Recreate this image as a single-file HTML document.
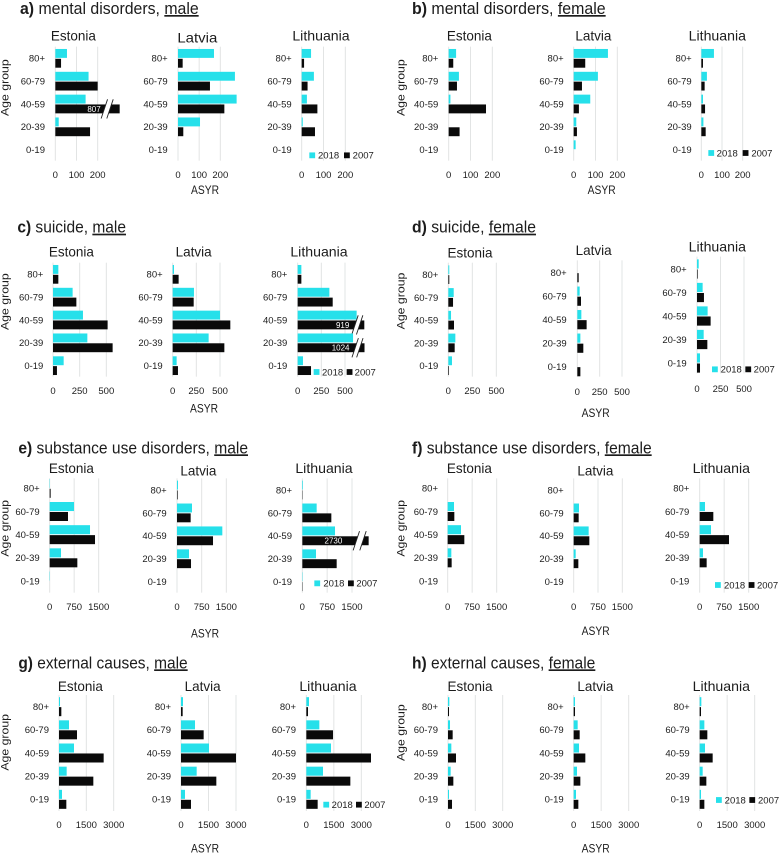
<!DOCTYPE html>
<html lang="en">
<head>
<meta charset="utf-8">
<title>ASYR by age group in the Baltic countries</title>
<style>
html,body{margin:0;padding:0;background:#fff;}
svg{display:block;font-family:"Liberation Sans",Arial,sans-serif;filter:blur(0.3px);}
text{fill:#1c1c1c;}
.ul{text-decoration:underline;}
</style>
</head>
<body>
<svg id="chart" xmlns="http://www.w3.org/2000/svg" width="780" height="853" viewBox="0 0 780 853"></svg>
<script>
// Categories and legend
const ageGroups = ['80+', '60-79', '40-59', '20-39', '0-19'];
const legendYears = ['2018', '2007'];

// Tick labels
const ticksMental = [0, 100, 200];
const ticksSuicide = [0, 250, 500];
const ticksSubstance = [0, 750, 1500];
const ticksExternal = [0, 1500, 3000];

// a) mental disorders, male
const aEstonia2018 = [55, 157, 143, 16, 0];
const aEstonia2007 = [27, 200, 807, 164, 0];
const aLatvia2018 = [170, 269, 277, 104, 0];
const aLatvia2007 = [22, 151, 219, 25, 0];
const aLithuania2018 = [43, 56, 24, 5, 0];
const aLithuania2007 = [11, 27, 72, 61, 0];

// b) mental disorders, female
const bEstonia2018 = [34, 47, 8, 0, 0];
const bEstonia2007 = [21, 38, 171, 50, 0];
const bLatvia2018 = [157, 111, 76, 12, 9];
const bLatvia2007 = [53, 38, 24, 15, 0];
const bLithuania2018 = [61, 27, 8, 10, 0];
const bLithuania2007 = [8, 16, 18, 21, 0];

// c) suicide, male
const cEstonia2018 = [50, 184, 281, 322, 100];
const cEstonia2007 = [50, 219, 512, 559, 37];
const cLatvia2018 = [14, 225, 500, 380, 42];
const cLatvia2007 = [63, 222, 609, 546, 56];
const cLithuania2018 = [39, 335, 623, 585, 56];
const cLithuania2007 = [39, 370, 919, 1024, 141];

// d) suicide, female
const dEstonia2018 = [10, 56, 28, 73, 38];
const dEstonia2007 = [10, 49, 59, 66, 7];
const dLatvia2018 = [0, 26, 45, 34, 0];
const dLatvia2007 = [15, 41, 104, 67, 34];
const dLithuania2018 = [18, 60, 113, 71, 32];
const dLithuania2007 = [7, 74, 145, 110, 32];

// e) substance use disorders, male
const eEstonia2018 = [10, 745, 1235, 347, 10];
const eEstonia2007 = [30, 561, 1388, 847, 0];
const eLatvia2018 = [30, 456, 1378, 365, 0];
const eLatvia2007 = [20, 415, 1095, 426, 0];
const eLithuania2018 = [20, 433, 987, 413, 10];
const eLithuania2007 = [10, 876, 2730, 1037, 10];

// f) substance use disorders, female
const fEstonia2018 = [0, 194, 408, 112, 0];
const fEstonia2007 = [0, 204, 510, 122, 0];
const fLatvia2018 = [0, 164, 462, 62, 0];
const fLatvia2007 = [0, 154, 483, 144, 0];
const fLithuania2018 = [0, 163, 347, 102, 0];
const fLithuania2007 = [0, 418, 898, 214, 0];

// g) external causes, male
const gEstonia2018 = [55, 549, 823, 421, 165];
const gEstonia2007 = [128, 988, 2451, 1884, 402];
const gLatvia2018 = [109, 764, 1527, 855, 218];
const gLatvia2007 = [91, 1236, 3000, 1927, 545];
const gLithuania2018 = [145, 709, 1345, 909, 236];
const gLithuania2007 = [91, 1455, 3527, 2400, 618];

// h) external causes, female
const hEstonia2018 = [73, 110, 183, 146, 55];
const hEstonia2007 = [55, 256, 439, 293, 220];
const hLatvia2018 = [73, 218, 291, 182, 127];
const hLatvia2007 = [73, 327, 636, 364, 255];
const hLithuania2018 = [91, 255, 291, 164, 73];
const hLithuania2007 = [73, 418, 709, 364, 255];

const COLOR_2018 = '#26e0ea';
const COLOR_2007 = '#0a0a0a';
const NS = 'http://www.w3.org/2000/svg';
const root = document.getElementById('chart');

// Layout values below are in 3x units relative to each panel's origin.
const u = v => v / 3;

function make(tag, attrs, parent) {
  const node = document.createElementNS(NS, tag);
  for (const key in attrs) node.setAttribute(key, attrs[key]);
  parent.appendChild(node);
  return node;
}

function label(parent, x, y, str, size, anchor, length) {
  const attrs = {x: x, y: y, 'font-size': size, 'text-anchor': anchor};
  if (length) {
    attrs.textLength = length;
    attrs.lengthAdjust = 'spacingAndGlyphs';
  }
  const t = make('text', attrs, parent);
  t.textContent = str;
  return t;
}

const panels = [
  {id: 'a', ox: 0, oy: 0, bold: 'a)', cause: ' mental disorders, ', sex: 'male', tx: 60, tw: 536, tb: 42, ageX: 25, ageC: 263, ticks: ticksMental,
   asyr: [615, 582], legend: [928, 954, 1032, 1058, 466], charts: [
    {country: 'Estonia', s18: aEstonia2018, s07: aEstonia2007, x0: 166, xTop: 293, y0: 175, y4: 449, gt: 140, gb: 482, ty: 524, lr: 135, cc: 220, cb: 122, cw: 135, breakAt: 293.7, slash: 46, slashGap: 17, lblEnd: 11},
    {country: 'Latvia', s18: aLatvia2018, s07: aLatvia2007, x0: 534, xTop: 661, y0: 175, y4: 449, gt: 140, gb: 482, ty: 524, lr: 503, cc: 592, cb: 128, cw: 120},
    {country: 'Lithuania', s18: aLithuania2018, s07: aLithuania2007, x0: 905, xTop: 1036, y0: 175, y4: 449, gt: 140, gb: 482, ty: 524, lr: 875, cc: 963, cb: 122, cw: 172}
   ]},
  {id: 'b', ox: 390, oy: 0, bold: 'b)', cause: ' mental disorders, ', sex: 'female', tx: 66, tw: 581, tb: 42, ageX: 44, ageC: 263, ticks: ticksMental,
   asyr: [635, 582], legend: [955, 980, 1058, 1084, 459], charts: [
    {country: 'Estonia', s18: bEstonia2018, s07: bEstonia2007, x0: 176, xTop: 307, y0: 175, y4: 449, gt: 140, gb: 482, ty: 524, lr: 145, cc: 238, cb: 122, cw: 135},
    {country: 'Latvia', s18: bLatvia2018, s07: bLatvia2007, x0: 551, xTop: 682, y0: 175, y4: 449, gt: 140, gb: 482, ty: 524, lr: 521, cc: 610, cb: 122, cw: 108},
    {country: 'Lithuania', s18: bLithuania2018, s07: bLithuania2007, x0: 934, xTop: 1058, y0: 175, y4: 449, gt: 140, gb: 482, ty: 524, lr: 905, cc: 982, cb: 122, cw: 172}
   ]},
  {id: 'c', ox: 0, oy: 215, bold: 'c)', cause: ' suicide, ', sex: 'male', tx: 52, tw: 326, tb: 53, ageX: 25, ageC: 260, ticks: ticksSuicide,
   asyr: [612, 592], legend: [941, 966, 1040, 1064, 471], charts: [
    {country: 'Estonia', s18: cEstonia2018, s07: cEstonia2007, x0: 159, xTop: 319, y0: 178, y4: 452, gt: 143, gb: 485, ty: 527, lr: 130, cc: 214, cb: 125, cw: 135},
    {country: 'Latvia', s18: cLatvia2018, s07: cLatvia2007, x0: 518, xTop: 660, y0: 178, y4: 452, gt: 143, gb: 485, ty: 527, lr: 488, cc: 581, cb: 125, cw: 108},
    {country: 'Lithuania', s18: cLithuania2018, s07: cLithuania2007, x0: 893, xTop: 1035, y0: 178, y4: 452, gt: 143, gb: 485, ty: 527, lr: 862, cc: 957, cb: 125, cw: 172, breakAt: 699.6, slash: 28, slashGap: 14, lblEnd: 17}
   ]},
  {id: 'd', ox: 390, oy: 215, bold: 'd)', cause: ' suicide, ', sex: 'female', tx: 66, tw: 372, tb: 53, ageX: 44, ageC: 258, ticks: ticksSuicide,
   asyr: [617, 606], legend: [966, 992, 1066, 1091, 463], charts: [
    {country: 'Estonia', s18: dEstonia2018, s07: dEstonia2007, x0: 175, xTop: 319, y0: 179, y4: 452, gt: 143, gb: 485, ty: 527, lr: 145, cc: 240, cb: 127, cw: 135},
    {country: 'Latvia', s18: dLatvia2018, s07: dLatvia2007, x0: 562, xTop: 696, y0: 173, y4: 455, gt: 136, gb: 485, ty: 530, lr: 530, cc: 611, cb: 120, cw: 108},
    {country: 'Lithuania', s18: dLithuania2018, s07: dLithuania2007, x0: 921, xTop: 1062, y0: 162, y4: 444, gt: 125, gb: 475, ty: 521, lr: 890, cc: 982, cb: 110, cw: 172}
   ]},
  {id: 'e', ox: 0, oy: 430, bold: 'e)', cause: ' substance use disorders, ', sex: 'male', tx: 55, tw: 689, tb: 70, ageX: 25, ageC: 295, ticks: ticksSubstance,
   asyr: [615, 622], legend: [943, 970, 1044, 1069, 460], charts: [
    {country: 'Estonia', s18: eEstonia2018, s07: eEstonia2007, x0: 149, xTop: 296, y0: 175, y4: 453, gt: 145, gb: 488, ty: 530, lr: 119, cc: 214, cb: 129, cw: 135},
    {country: 'Latvia', s18: eLatvia2018, s07: eLatvia2007, x0: 531, xTop: 679, y0: 180, y4: 455, gt: 145, gb: 488, ty: 530, lr: 500, cc: 595, cb: 136, cw: 108},
    {country: 'Lithuania', s18: eLithuania2018, s07: eLithuania2007, x0: 907, xTop: 1056, y0: 180, y4: 455, gt: 145, gb: 488, ty: 530, lr: 876, cc: 972, cb: 129, cw: 172, breakAt: 1988, slash: 37, slashGap: 20, lblEnd: 42}
   ]},
  {id: 'f', ox: 390, oy: 430, bold: 'f)', cause: ' substance use disorders, ', sex: 'female', tx: 66, tw: 719, tb: 70, ageX: 44, ageC: 295, ticks: ticksSubstance,
   asyr: [617, 615], legend: [975, 1002, 1076, 1101, 465], charts: [
    {country: 'Estonia', s18: fEstonia2018, s07: fEstonia2007, x0: 173, xTop: 320, y0: 175, y4: 453, gt: 145, gb: 488, ty: 530, lr: 144, cc: 238, cb: 129, cw: 135},
    {country: 'Latvia', s18: fLatvia2018, s07: fLatvia2007, x0: 551, xTop: 697, y0: 180, y4: 455, gt: 145, gb: 488, ty: 530, lr: 521, cc: 616, cb: 136, cw: 108},
    {country: 'Lithuania', s18: fLithuania2018, s07: fLithuania2007, x0: 929, xTop: 1076, y0: 175, y4: 453, gt: 145, gb: 488, ty: 530, lr: 898, cc: 994, cb: 129, cw: 172}
   ]},
  {id: 'g', ox: 0, oy: 640, bold: 'g)', cause: ' external causes, ', sex: 'male', tx: 55, tw: 508, tb: 85, ageX: 25, ageC: 307, ticks: ticksExternal,
   asyr: [615, 637], legend: [970, 995, 1068, 1093, 494], charts: [
    {country: 'Estonia', s18: gEstonia2018, s07: gEstonia2007, x0: 177, xTop: 341, y0: 200, y4: 478, gt: 165, gb: 513, ty: 554, lr: 147, cc: 241, cb: 153, cw: 135},
    {country: 'Latvia', s18: gLatvia2018, s07: gLatvia2007, x0: 543, xTop: 708, y0: 200, y4: 478, gt: 165, gb: 513, ty: 554, lr: 513, cc: 608, cb: 153, cw: 108},
    {country: 'Lithuania', s18: gLithuania2018, s07: gLithuania2007, x0: 919, xTop: 1084, y0: 200, y4: 478, gt: 165, gb: 513, ty: 554, lr: 888, cc: 984, cb: 153, cw: 172}
   ]},
  {id: 'h', ox: 390, oy: 640, bold: 'h)', cause: ' external causes, ', sex: 'female', tx: 66, tw: 550, tb: 85, ageX: 44, ageC: 278, ticks: ticksExternal,
   asyr: [617, 637], legend: [978, 1004, 1078, 1104, 480], charts: [
    {country: 'Estonia', s18: hEstonia2018, s07: hEstonia2007, x0: 174, xTop: 338, y0: 200, y4: 478, gt: 165, gb: 513, ty: 554, lr: 144, cc: 240, cb: 153, cw: 135},
    {country: 'Latvia', s18: hLatvia2018, s07: hLatvia2007, x0: 551, xTop: 716, y0: 200, y4: 478, gt: 165, gb: 513, ty: 554, lr: 521, cc: 616, cb: 153, cw: 108},
    {country: 'Lithuania', s18: hLithuania2018, s07: hLithuania2007, x0: 929, xTop: 1094, y0: 200, y4: 478, gt: 165, gb: 513, ty: 554, lr: 899, cc: 994, cb: 153, cw: 172}
   ]}
];

function drawChart(panelGroup, panel, chart) {
  const slug = panel.id + '-' + chart.country.toLowerCase();
  const group = make('g', {}, panelGroup);
  
  

  const tickMax = panel.ticks[panel.ticks.length - 1];
  const xScale = v => u(chart.x0 + v * (chart.xTop - chart.x0) / tickMax);
  const rowStep = (chart.y4 - chart.y0) / (ageGroups.length - 1);
  const yScale = i => u(chart.y0 + i * rowStep);
  const barLength = v => {
    if (chart.breakAt && v > chart.breakAt) return chart.breakAt + (v - chart.breakAt) * 0.02;
    return v;
  };
  const rowPx = u(rowStep);
  const barH = rowPx * 0.39;
  const barGap = rowPx * 0.02;

  const countryLabel = label(group, u(chart.cc), u(chart.cb), chart.country, 14, 'middle', u(chart.cw));
  
  

  panel.ticks.forEach(tick => {
    const grid = make('line', {x1: xScale(tick), x2: xScale(tick), y1: u(chart.gt), y2: u(chart.gb), stroke: '#e2e4e4', 'stroke-width': 1}, group);
    
    
    const tickLabel = label(group, xScale(tick), u(chart.ty) + 3.4, String(tick), 9.5, 'middle');
    
    
  });

  ageGroups.forEach((age, i) => {
    const cy = yScale(i);
    const catLabel = label(group, u(chart.lr), cy + 3.4, age, 9.5, 'end');
    
    

    const bar18 = make('rect', {x: xScale(0), y: cy - barGap - barH, width: xScale(barLength(chart.s18[i])) - xScale(0), height: barH, fill: COLOR_2018}, group);
    
    

    const value07 = chart.s07[i];
    const bar07 = make('rect', {x: xScale(0), y: cy + barGap, width: xScale(barLength(value07)) - xScale(0), height: barH, fill: COLOR_2007}, group);
    
    

    if (chart.breakAt && value07 > chart.breakAt) {
      const end = xScale(barLength(value07));
      const first = end - u(chart.slash);
      const second = first + u(chart.slashGap);
      const mid = cy + barGap + barH / 2;
      const halfH = rowPx * 0.42;
      const dx = 3.2;
      const gap = make('polygon', {points: [first - dx, mid + halfH, first + dx, mid - halfH, second + dx, mid - halfH, second - dx, mid + halfH].join(' '), fill: '#fff'}, group);
      
      
      [first, second].forEach((sx, k) => {
        const slash = make('line', {x1: sx - dx, y1: mid + halfH, x2: sx + dx, y2: mid - halfH, stroke: '#222', 'stroke-width': 0.9}, group);
        
        
      });
      const printed = label(group, end - u(chart.lblEnd + chart.slash), mid + 2.9, String(value07), 8, 'end');
      printed.style.fill = '#fff';
      
      
    }
  });
}

function drawPanel(panel) {
  const group = make('g', {transform: 'translate(' + panel.ox + ',' + panel.oy + ')'}, root);
  
  

  const title = make('text', {x: u(panel.tx), y: u(panel.tb), 'font-size': 16.8, textLength: u(panel.tw), lengthAdjust: 'spacingAndGlyphs'}, group);
  
  
  const boldPart = make('tspan', {'font-weight': 'bold'}, title);
  boldPart.textContent = panel.bold;
  const causePart = make('tspan', {}, title);
  causePart.textContent = panel.cause;
  const sexPart = make('tspan', {class: 'ul'}, title);
  sexPart.textContent = panel.sex;

  const ageTitle = label(group, 0, 0, 'Age group', 11, 'middle', 56.7);
  ageTitle.setAttribute('transform', 'translate(' + u(panel.ageX) + ',' + u(panel.ageC) + ') rotate(-90)');
  
  

  const xTitle = label(group, u(panel.asyr[0]), u(panel.asyr[1]), 'ASYR', 11.5, 'middle', 28);
  
  

  panel.charts.forEach(chart => drawChart(group, panel, chart));

  const lg = panel.legend;
  const legendGroup = make('g', {}, group);
  
  
  legendYears.forEach((year, k) => {
    const swatch = make('rect', {x: u(lg[k * 2]), y: u(lg[4]) - 2.9, width: 5.8, height: 5.8, fill: k === 0 ? COLOR_2018 : COLOR_2007}, legendGroup);
    
    
    const yearLabel = label(legendGroup, u(lg[k * 2 + 1]), u(lg[4]) + 3.4, year, 9.5, 'start');
    
    
  });
}

panels.forEach(drawPanel);
</script>
</body>
</html>
